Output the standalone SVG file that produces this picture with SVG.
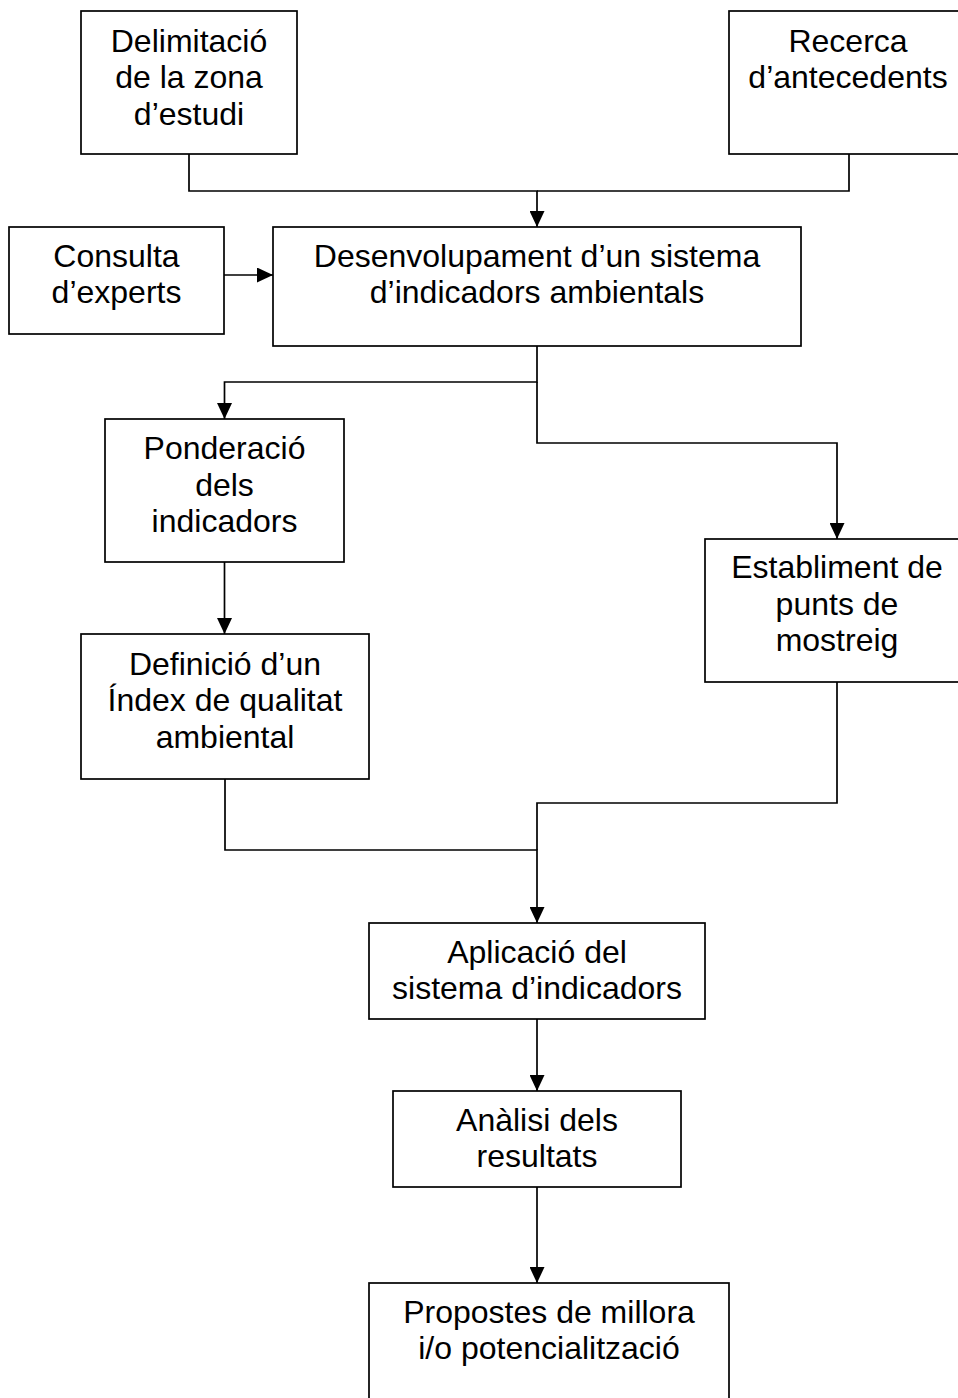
<svg xmlns="http://www.w3.org/2000/svg" width="958" height="1398" viewBox="0 0 958 1398">
<style>
.box{fill:#fff;stroke:#000;stroke-width:1.7}
.t{font-family:"Liberation Sans",Arial,sans-serif;font-size:32px;fill:#000;text-anchor:middle}
.c{fill:none;stroke:#000;stroke-width:1.7}
</style>
<defs>
<marker id="ah" markerUnits="userSpaceOnUse" markerWidth="16" markerHeight="15" refX="16" refY="7.5" orient="auto">
<path d="M0,0 L16,7.5 L0,15 z" fill="#000"/>
</marker>
</defs>
<rect width="958" height="1398" fill="#fff"/>
<g id="connectors">
<path class="c" d="M189,154 V191 H537 V227" marker-end="url(#ah)"/>
<path class="c" d="M849,154 V191 H537"/>
<path class="c" d="M224,275 H273" marker-end="url(#ah)"/>
<path class="c" d="M537,346 V382 H224.5 V419" marker-end="url(#ah)"/>
<path class="c" d="M537,382 V443 H837 V539" marker-end="url(#ah)"/>
<path class="c" d="M224.5,562 V634" marker-end="url(#ah)"/>
<path class="c" d="M225,779 V850 H537 V923" marker-end="url(#ah)"/>
<path class="c" d="M837,682 V803 H537 V850"/>
<path class="c" d="M537,1019 V1091" marker-end="url(#ah)"/>
<path class="c" d="M537,1187 V1283" marker-end="url(#ah)"/>
</g>
<g id="delimitacio">
<rect class="box" x="81" y="11" width="216" height="143"/>
<text class="t" x="189" y="51.5">Delimitació</text>
<text class="t" x="189" y="88">de la zona</text>
<text class="t" x="189" y="124.5">d’estudi</text>
</g>
<g id="recerca">
<rect class="box" x="729" y="11" width="240" height="143"/>
<text class="t" x="848" y="51.5">Recerca</text>
<text class="t" x="848" y="88">d’antecedents</text>
</g>
<g id="consulta">
<rect class="box" x="9" y="227" width="215" height="107"/>
<text class="t" x="116.5" y="266.5">Consulta</text>
<text class="t" x="116.5" y="303">d’experts</text>
</g>
<g id="desenvolupament">
<rect class="box" x="273" y="227" width="528" height="119"/>
<text class="t" x="537" y="266.5">Desenvolupament d’un sistema</text>
<text class="t" x="537" y="303">d’indicadors ambientals</text>
</g>
<g id="ponderacio">
<rect class="box" x="105" y="419" width="239" height="143"/>
<text class="t" x="224.5" y="459">Ponderació</text>
<text class="t" x="224.5" y="495.5">dels</text>
<text class="t" x="224.5" y="532">indicadors</text>
</g>
<g id="definicio">
<rect class="box" x="81" y="634" width="288" height="145"/>
<text class="t" x="225" y="674.5">Definició d’un</text>
<text class="t" x="225" y="711">Índex de qualitat</text>
<text class="t" x="225" y="747.5">ambiental</text>
</g>
<g id="establiment">
<rect class="box" x="705" y="539" width="265" height="143"/>
<text class="t" x="837" y="578">Establiment de</text>
<text class="t" x="837" y="614.5">punts de</text>
<text class="t" x="837" y="651">mostreig</text>
</g>
<g id="aplicacio">
<rect class="box" x="369" y="923" width="336" height="96"/>
<text class="t" x="537" y="962.5">Aplicació del</text>
<text class="t" x="537" y="999">sistema d’indicadors</text>
</g>
<g id="analisi">
<rect class="box" x="393" y="1091" width="288" height="96"/>
<text class="t" x="537" y="1130.5">Anàlisi dels</text>
<text class="t" x="537" y="1167">resultats</text>
</g>
<g id="propostes">
<rect class="box" x="369" y="1283" width="360" height="130"/>
<text class="t" x="549" y="1322.5">Propostes de millora</text>
<text class="t" x="549" y="1359">i/o potencialització</text>
</g>
</svg>
